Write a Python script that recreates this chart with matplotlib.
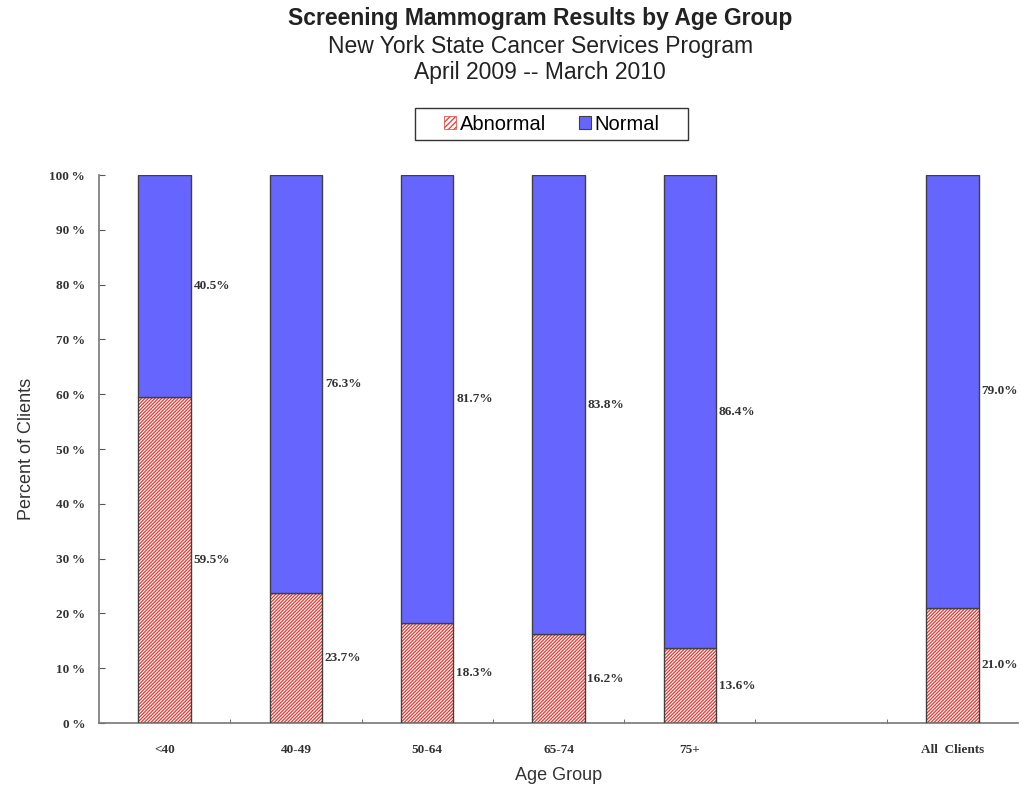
import matplotlib
matplotlib.use("Agg")
import matplotlib.pyplot as plt
import numpy as np
from matplotlib.patches import Patch, Rectangle

categories = ["<40", "40-49", "50-64", "65-74", "75+", "", "All  Clients"]
abnormal = [59.5, 23.7, 18.3, 16.2, 13.6, None, 21.0]
normal = [40.5, 76.3, 81.7, 83.8, 86.4, None, 79.0]
yticks = [0, 10, 20, 30, 40, 50, 60, 70, 80, 90, 100]

plt.rcParams['font.family'] = ['Liberation Sans', 'DejaVu Sans']
plt.rcParams['hatch.linewidth'] = 0.9

fig = plt.figure(figsize=(10.21, 7.87), dpi=100)
ax = fig.add_axes([99/1021, 1-723/787, 919/1021, 548/787])

blue = "#6666FF"
red = "#E03A34"
edge = "#404040"
serif = ['Liberation Serif', 'DejaVu Serif']
w = 0.4
hatch = "//////////"
for i, (a, n) in enumerate(zip(abnormal, normal)):
    if a is None:
        continue
    ax.bar(i, a, width=w, facecolor="white", edgecolor=red, hatch=hatch, linewidth=0, zorder=2)
    ax.bar(i, a, width=w, fill=False, edgecolor=edge, linewidth=1.0, zorder=3)
    ax.bar(i, n, width=w, bottom=a, facecolor=blue, edgecolor=edge, linewidth=1.0, zorder=3)
    ax.text(i + w/2 + 0.02, a/2, f"{a:.1f}%", ha="left", va="center", fontsize=9.5,
            fontweight="bold", color="#333333", family=serif)
    ax.text(i + w/2 + 0.02, a + n/2, f"{n:.1f}%", ha="left", va="center", fontsize=9.5,
            fontweight="bold", color="#333333", family=serif)

ax.set_xlim(-0.5, len(categories) - 0.5)
ax.set_ylim(0, 100)
ax.set_yticks(yticks)
ax.set_yticklabels([f"{v}\u2009%" for v in yticks], fontsize=9.5, fontweight="bold",
                   color="#333333", family=serif)
ax.set_xticks(range(len(categories)))
ax.set_xticklabels(categories, fontsize=9.5, fontweight="bold", color="#333333", family=serif)
ax.set_xticks(np.arange(0.5, len(categories) - 0.5, 1), minor=True)
ax.tick_params(axis="x", which="major", length=0, pad=15)
ax.tick_params(axis="x", which="minor", direction="in", length=3, color="#555555")
ax.tick_params(axis="y", direction="in", length=4, pad=10, color="#555555")
for s in ["top", "right"]:
    ax.spines[s].set_visible(False)
for s in ["left", "bottom"]:
    ax.spines[s].set_color("#777777")
    ax.spines[s].set_linewidth(1.2)

ax.set_ylabel("Percent of Clients", fontsize=13, color="#333333", labelpad=10)
ax.set_xlabel("Age Group", fontsize=13, color="#333333", labelpad=8)

fig.text(0.529, 1-18/787, "Screening Mammogram Results by Age Group", ha="center", va="center",
         fontsize=16.5, fontweight="bold", color="#222222")
fig.text(0.529, 1-46/787, "New York State Cancer Services Program", ha="center", va="center",
         fontsize=16.5, color="#222222")
fig.text(0.529, 1-73/787, "April 2009 -- March 2010", ha="center", va="center",
         fontsize=16.5, color="#222222")

# legend frame
fig.patches.append(Rectangle((415/1021, 1-140/787), 273/1021, 32/787, transform=fig.transFigure,
                             facecolor="white", edgecolor="#333333", linewidth=1.0))
handles = [Patch(facecolor="white", edgecolor=red, hatch="//////", linewidth=0.5),
           Patch(facecolor=blue, edgecolor=edge, linewidth=0.8)]
leg = fig.legend(handles, ["Abnormal", "Normal"], loc="center", bbox_to_anchor=(552/1021, 1-124/787),
                 ncol=2, fontsize=14.5, frameon=False,
                 handlelength=0.6, handleheight=0.6, handletextpad=0.2, columnspacing=1.6,
                 borderpad=0.3, borderaxespad=0)

fig.savefig("out.png", dpi=100)
